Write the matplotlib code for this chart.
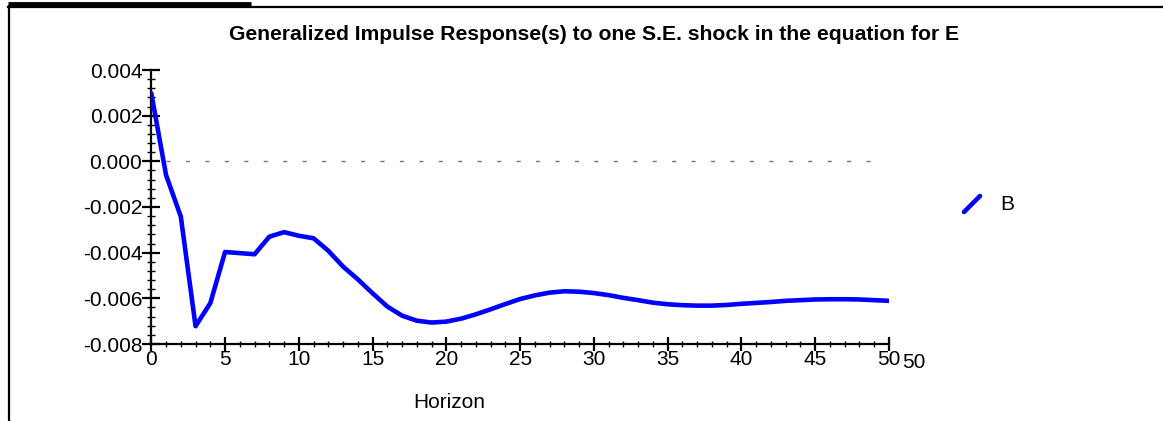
import matplotlib
matplotlib.use("Agg")
import matplotlib.pyplot as plt
from matplotlib.ticker import MultipleLocator, FormatStrFormatter
from matplotlib.lines import Line2D

plt.rcParams['font.family'] = ['Liberation Sans', 'DejaVu Sans']
plt.rcParams['axes.unicode_minus'] = False

horizon = list(range(51))
response_B = [
    0.00298, -0.00060, -0.00242, -0.00722, -0.00621, -0.00397, -0.00402, -0.00407,
    -0.00330, -0.00310, -0.00326, -0.00337, -0.00392, -0.00461, -0.00517, -0.00578,
    -0.00636, -0.00676, -0.00698, -0.00706, -0.00702, -0.00689, -0.00670, -0.00648,
    -0.00625, -0.00603, -0.00587, -0.00575, -0.00569, -0.00571, -0.00577, -0.00586,
    -0.00598, -0.00608, -0.00619, -0.00626, -0.00630, -0.00632, -0.00632, -0.00629,
    -0.00624, -0.00620, -0.00616, -0.00611, -0.00608, -0.00605, -0.00604, -0.00604,
    -0.00605, -0.00608, -0.00611,
]
series_name = "B"
title = "Generalized Impulse Response(s) to one S.E. shock in the equation for E"
xlabel = "Horizon"

FS = 15
W, H = 1163, 421
fig = plt.figure(figsize=(W / 100, H / 100), dpi=100)
ax = fig.add_axes([151.3 / W, 1 - 344 / H, (889 - 151.3) / W, (344 - 70) / H])

ax.plot(horizon, response_B, color='#0000ff', lw=3.3, solid_capstyle='round',
        solid_joinstyle='round', zorder=3)
ax.hlines(0, 1.0, 49.3, colors='#777777', lw=1.0, linestyles=(0, (3, 11)), zorder=2)

ax.set_xlim(0, 50)
ax.set_ylim(-0.008, 0.004)
for s in ['top', 'right']:
    ax.spines[s].set_visible(False)
for s in ['left', 'bottom']:
    ax.spines[s].set_linewidth(1.6)
    ax.spines[s].set_color('black')

ax.xaxis.set_major_locator(MultipleLocator(5))
ax.xaxis.set_minor_locator(MultipleLocator(1))
ax.yaxis.set_major_locator(MultipleLocator(0.002))
ax.yaxis.set_minor_locator(MultipleLocator(0.0004))
ax.yaxis.set_major_formatter(FormatStrFormatter('%.3f'))

ax.tick_params(axis='x', which='major', direction='inout', length=10, width=1.6,
               labelsize=FS, pad=-1)
ax.tick_params(axis='x', which='minor', direction='inout', length=5, width=1.0)
ax.tick_params(axis='y', which='major', direction='inout', length=13, width=1.6,
               labelsize=FS, pad=0)
ax.tick_params(axis='y', which='minor', direction='inout', length=6, width=1.0)

fig.text(449 / W, 1 - 402 / H, xlabel, fontsize=FS, ha='center', va='center')
fig.text(914 / W, 1 - 362 / H, "50", fontsize=FS, ha='center', va='center')

fig.text(594 / W, 1 - 35 / H, title, fontsize=15.2, fontweight='bold',
         ha='center', va='center')

# legend
fig.add_artist(Line2D([964 / W, 980 / W], [1 - 212 / H, 1 - 196 / H],
                      color='#0000ff', lw=3.3, solid_capstyle='round'))
fig.text(1000 / W, 1 - 204.5 / H, series_name, fontsize=FS, ha='left', va='center')

# frame
fig.add_artist(Line2D([8 / W, 1.0], [1 - 6.5 / H, 1 - 6.5 / H], color='black', lw=1.6))
fig.add_artist(Line2D([8.5 / W, 8.5 / W], [0, 1 - 6 / H], color='black', lw=1.6))
fig.add_artist(Line2D([8 / W, 251 / W], [1 - 4 / H, 1 - 4 / H], color='black', lw=3.5,
                      solid_capstyle='butt'))

fig.savefig("out.png", dpi=100)
